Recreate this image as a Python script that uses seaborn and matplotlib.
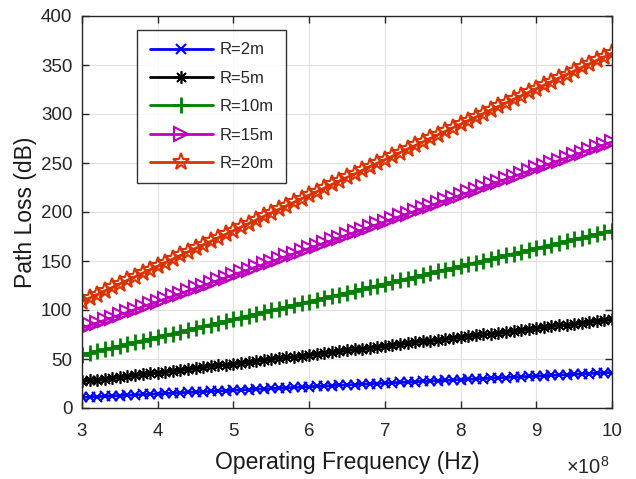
import matplotlib
matplotlib.use("Agg")
import matplotlib.pyplot as plt
import seaborn as sns
import pandas as pd
from matplotlib.ticker import MultipleLocator

# Frequency grid (units of 1e8 Hz)
freq = [3.0, 3.1, 3.2, 3.3, 3.4, 3.5, 3.6, 3.7, 3.8, 3.9,
        4.0, 4.1, 4.2, 4.3, 4.4, 4.5, 4.6, 4.7, 4.8, 4.9,
        5.0, 5.1, 5.2, 5.3, 5.4, 5.5, 5.6, 5.7, 5.8, 5.9,
        6.0, 6.1, 6.2, 6.3, 6.4, 6.5, 6.6, 6.7, 6.8, 6.9,
        7.0, 7.1, 7.2, 7.3, 7.4, 7.5, 7.6, 7.7, 7.8, 7.9,
        8.0, 8.1, 8.2, 8.3, 8.4, 8.5, 8.6, 8.7, 8.8, 8.9,
        9.0, 9.1, 9.2, 9.3, 9.4, 9.5, 9.6, 9.7, 9.8, 9.9,
        10.0]

loss_r2 = [10.9, 11.2, 11.6, 11.9, 12.3, 12.7, 13.0, 13.4, 13.8, 14.1,
           14.5, 14.8, 15.2, 15.6, 15.9, 16.3, 16.7, 17.0, 17.4, 17.7,
           18.1, 18.5, 18.8, 19.2, 19.5, 19.9, 20.3, 20.6, 21.0, 21.4,
           21.7, 22.1, 22.4, 22.8, 23.2, 23.5, 23.9, 24.3, 24.6, 25.0,
           25.3, 25.7, 26.1, 26.4, 26.8, 27.2, 27.5, 27.9, 28.2, 28.6,
           29.0, 29.3, 29.7, 30.0, 30.4, 30.8, 31.1, 31.5, 31.9, 32.2,
           32.6, 32.9, 33.3, 33.7, 34.0, 34.4, 34.8, 35.1, 35.5, 35.8,
           36.2]

loss_r5 = [27.2, 28.1, 29.0, 29.9, 30.8, 31.7, 32.6, 33.5, 34.4, 35.3,
           36.2, 37.1, 38.0, 38.9, 39.8, 40.7, 41.6, 42.5, 43.4, 44.3,
           45.3, 46.2, 47.1, 48.0, 48.9, 49.8, 50.7, 51.6, 52.5, 53.4,
           54.3, 55.2, 56.1, 57.0, 57.9, 58.8, 59.7, 60.6, 61.5, 62.4,
           63.4, 64.3, 65.2, 66.1, 67.0, 67.9, 68.8, 69.7, 70.6, 71.5,
           72.4, 73.3, 74.2, 75.1, 76.0, 76.9, 77.8, 78.7, 79.6, 80.5,
           81.5, 82.4, 83.3, 84.2, 85.1, 86.0, 86.9, 87.8, 88.7, 89.6,
           90.5]

loss_r10 = [54.3, 56.1, 57.9, 59.7, 61.5, 63.4, 65.2, 67.0, 68.8, 70.6,
            72.4, 74.2, 76.0, 77.8, 79.6, 81.5, 83.3, 85.1, 86.9, 88.7,
            90.5, 92.3, 94.1, 95.9, 97.7, 99.6, 101.4, 103.2, 105.0, 106.8,
            108.6, 110.4, 112.2, 114.0, 115.8, 117.7, 119.5, 121.3, 123.1, 124.9,
            126.7, 128.5, 130.3, 132.1, 133.9, 135.8, 137.6, 139.4, 141.2, 143.0,
            144.8, 146.6, 148.4, 150.2, 152.0, 153.9, 155.7, 157.5, 159.3, 161.1,
            162.9, 164.7, 166.5, 168.3, 170.1, 172.0, 173.8, 175.6, 177.4, 179.2,
            181.0]

loss_r15 = [81.5, 84.2, 86.9, 89.6, 92.3, 95.0, 97.7, 100.5, 103.2, 105.9,
            108.6, 111.3, 114.0, 116.7, 119.5, 122.2, 124.9, 127.6, 130.3, 133.0,
            135.8, 138.5, 141.2, 143.9, 146.6, 149.3, 152.0, 154.8, 157.5, 160.2,
            162.9, 165.6, 168.3, 171.0, 173.8, 176.5, 179.2, 181.9, 184.6, 187.3,
            190.1, 192.8, 195.5, 198.2, 200.9, 203.6, 206.3, 209.1, 211.8, 214.5,
            217.2, 219.9, 222.6, 225.3, 228.1, 230.8, 233.5, 236.2, 238.9, 241.6,
            244.4, 247.1, 249.8, 252.5, 255.2, 257.9, 260.6, 263.4, 266.1, 268.8,
            271.5]

loss_r20 = [108.6, 112.2, 115.8, 119.5, 123.1, 126.7, 130.3, 133.9, 137.6, 141.2,
            144.8, 148.4, 152.0, 155.7, 159.3, 162.9, 166.5, 170.1, 173.8, 177.4,
            181.0, 184.6, 188.2, 191.9, 195.5, 199.1, 202.7, 206.3, 210.0, 213.6,
            217.2, 220.8, 224.4, 228.1, 231.7, 235.3, 238.9, 242.5, 246.2, 249.8,
            253.4, 257.0, 260.6, 264.3, 267.9, 271.5, 275.1, 278.7, 282.4, 286.0,
            289.6, 293.2, 296.8, 300.5, 304.1, 307.7, 311.3, 314.9, 318.6, 322.2,
            325.8, 329.4, 333.0, 336.7, 340.3, 343.9, 347.5, 351.1, 354.8, 358.4,
            362.0]

labels = ["R=2m", "R=5m", "R=10m", "R=15m", "R=20m"]
series = [loss_r2, loss_r5, loss_r10, loss_r15, loss_r20]
colors = ["#0000FF", "#000000", "#008000", "#BF00BF", "#DC3200"]
markers = ["x", (8, 2, 0), "+", ">", "*"]
msizes = [7.5, 9, 11, 10, 12.5]
mews = [1.5, 1.2, 2.0, 1.5, 1.5]
fills = [True, True, True, False, False]

sns.set_theme(style="white")
plt.rcParams['font.family'] = ['Liberation Sans', 'DejaVu Sans']
plt.rcParams['mathtext.fontset'] = 'custom'
plt.rcParams['mathtext.rm'] = 'Liberation Sans'

fig = plt.figure(figsize=(6.36, 4.79), dpi=100)
ax = fig.add_axes([82 / 636, 1 - 408 / 479, 530 / 636, 392 / 479])

for lab, vals, c, m, ms, mw, fl in zip(labels, series, colors, markers, msizes, mews, fills):
    df = pd.DataFrame({"f": freq, "L": vals})
    sns.lineplot(data=df, x="f", y="L", ax=ax, color=c, linewidth=2,
                 marker=m, markersize=ms, markeredgewidth=mw,
                 markerfacecolor=(c if fl else 'none'), markeredgecolor=c,
                 label=lab)

ax.set_xlim(3, 10)
ax.set_ylim(0, 400)
ax.yaxis.set_major_locator(MultipleLocator(50))
ax.xaxis.set_major_locator(MultipleLocator(1))

ax.grid(True, color='#e0e0e0', linewidth=0.8)
for s in ax.spines.values():
    s.set_color('#262626')
    s.set_linewidth(1.0)
ax.tick_params(direction='in', length=5, width=1, colors='#262626',
               labelsize=13.5, top=True, right=True, bottom=True, left=True,
               labelcolor='#262626')
ax.tick_params(axis='x', pad=11)
ax.tick_params(axis='y', pad=7)
ax.set_xlabel("Operating Frequency (Hz)", fontsize=16.5, color='#1a1a1a', labelpad=8)
ax.set_ylabel("Path Loss (dB)", fontsize=16.5, color='#1a1a1a', labelpad=3)

fig.text(610 / 636, 1 - 474 / 479, r"$\times\mathregular{10^{8}}$", ha='right',
         va='baseline', fontsize=14.5, color='#262626')

leg = ax.legend(loc='upper left', bbox_to_anchor=((137 - 82) / 530, (408 - 30) / 392),
                fontsize=12, frameon=True, fancybox=False, edgecolor='black',
                handlelength=3.8, labelspacing=0.8, borderpad=0.75,
                handletextpad=0.4, borderaxespad=0)
leg.get_frame().set_linewidth(1.0)

fig.savefig("out.png", dpi=100)
